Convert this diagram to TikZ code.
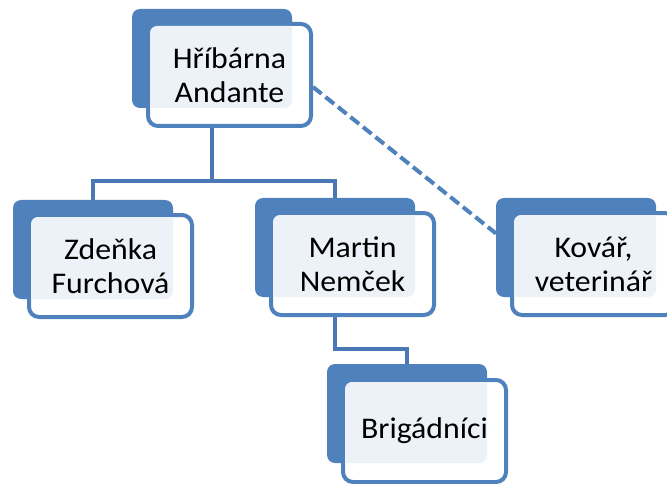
\documentclass[tikz,border=0pt]{standalone}
\usepackage{fontspec}
\setmainfont{Carlito}[FakeStretch=1.06]
\usetikzlibrary{calc}
\definecolor{acc}{HTML}{4F81BD}
\definecolor{connc}{HTML}{4A78B4}
\definecolor{lite}{HTML}{EDF2F9}
\pgfdeclarelayer{bg}
\pgfsetlayers{bg,main}
\tikzset{
  backbox/.style={rectangle, rounded corners=8pt, fill=acc, draw=none, inner sep=0pt, outer sep=0pt, minimum width=160pt, minimum height=99pt},
  frontbox/.style={rectangle, rounded corners=10pt, fill=white, draw=acc, line width=4pt, inner sep=0pt, outer sep=2pt, minimum width=163pt, minimum height=102pt},
  labeltext/.style={align=center, inner sep=0pt, font=\fontsize{30}{34}\selectfont, text=black},
  conn/.style={draw=connc, line width=3.2pt},
  dashconn/.style={draw=acc, line width=4pt, dash pattern=on 11pt off 5pt},
}
\newcommand\orgunit[4]{%
  \node[backbox] (#1-b) at (#2) {};
  \node[frontbox] (#1) at (#3) {};
  \begin{scope}
    \clip[rounded corners=8pt] (#1-b.north west) rectangle (#1-b.south east);
    \fill[lite, rounded corners=7pt] ([xshift=4pt,yshift=-4pt]#1.north west) rectangle ([xshift=-4pt,yshift=4pt]#1.south east);
  \end{scope}
  \node[labeltext] (#1-t) at (#1.center) {#4};
}
\begin{document}
\begin{tikzpicture}[x=1pt,y=-1pt]
\useasboundingbox (0,0) rectangle (667,484);
\orgunit{top}{212,58.5}{229.5,75}{Hříbárna\\Andante}
\orgunit{zf}{93,249.5}{110.5,266}{Zdeňka\\Furchová}
\orgunit{mn}{335,247.5}{352.5,264}{Martin\\Nemček}
\orgunit{kv}{576,247.5}{593.5,264}{Kovář,\\veterinář}
\orgunit{br}{407,413.5}{424.5,431}{Brigádníci}
\coordinate (jy) at (0,181);
\coordinate (jy2) at (0,349);
\begin{pgfonlayer}{bg}
  \draw[conn] (top-b.south) -- (top-b.south |- jy) -| (zf-b.north);
  \draw[conn] (top-b.south |- jy) -| (mn-b.north);
  \draw[conn] (mn-b.south) -- (mn-b.south |- jy2) -| (br-b.north);
  \draw[dashconn] ([yshift=-12pt]top.east) -- ([yshift=14pt]kv-b.west);
\end{pgfonlayer}
\end{tikzpicture}
\end{document}
